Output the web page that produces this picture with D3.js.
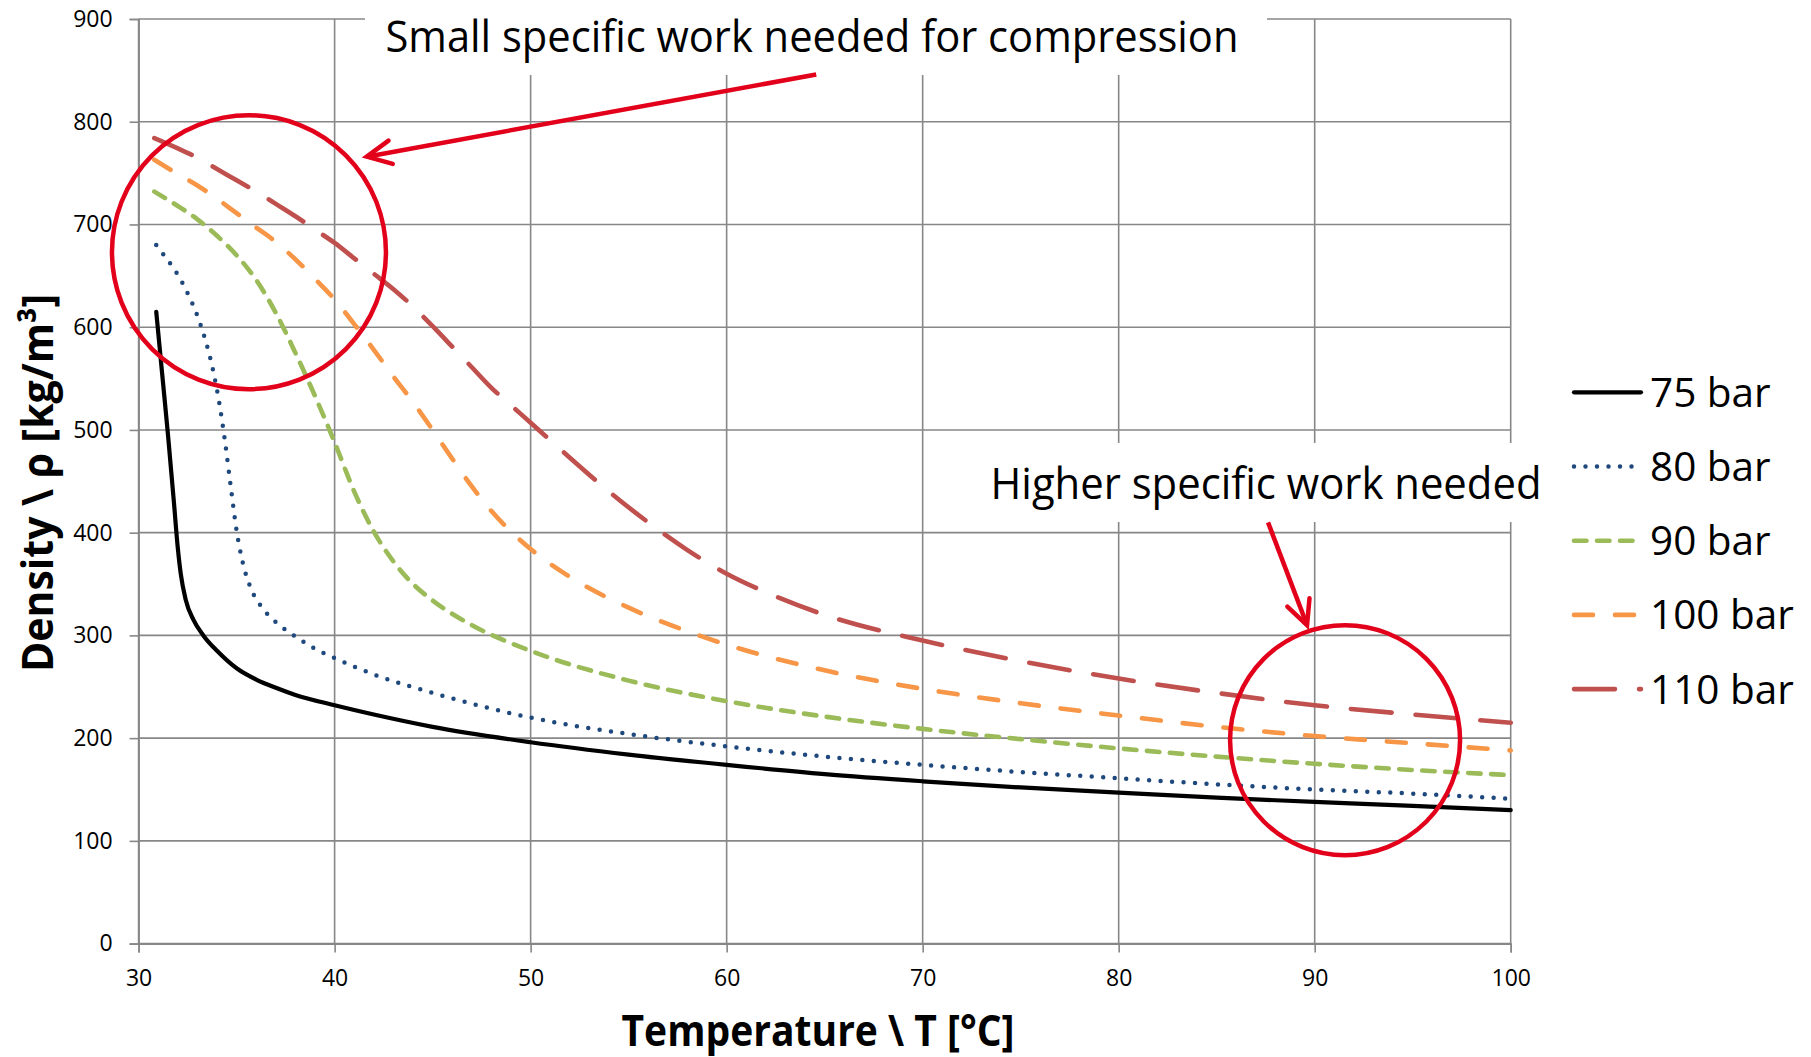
<!DOCTYPE html>
<html><head><meta charset="utf-8">
<script src="https://cdn.jsdelivr.net/npm/d3@7"></script>
<style>html,body{margin:0;padding:0;background:#fff}</style>
</head><body>
<svg id="chart" width="1811" height="1057"></svg>
<script>
// ---- data ----
const xTicks = [30, 40, 50, 60, 70, 80, 90, 100];
const yTicks = [0, 100, 200, 300, 400, 500, 600, 700, 800, 900];
const seriesNames = ["75 bar", "80 bar", "90 bar", "100 bar", "110 bar"];

const t75   = [30.9, 31.2, 31.5, 31.8, 32.0, 32.15, 32.4, 32.8, 33.3, 34, 35, 36, 37, 38, 40, 42, 45, 50, 55, 60, 65, 70, 75, 80, 85, 90, 95, 100];
const rho75 = [615, 555, 495, 430, 385, 360, 335, 315, 300, 285, 268, 257, 249, 242, 232, 223, 211, 196, 184, 174, 165, 158, 152, 147, 142, 138, 134, 130];

const t80   = [30.9, 31.3, 31.65, 32.0, 32.5, 33.0, 33.4, 33.8, 34.1, 34.4, 34.7, 35.0, 35.3, 35.7, 36.3, 37, 38, 39, 40, 42, 45, 50, 55, 60, 65, 70, 75, 80, 85, 90, 95, 100];
const rho80 = [680, 670, 661, 651, 633, 611, 588, 558, 528, 490, 445, 402, 372, 347, 327, 313, 299, 287, 278, 262, 244, 220, 204, 192, 182, 174, 167, 161, 155, 150, 146, 141];

const t90   = [30.8, 32, 33, 34, 35, 36, 37, 38, 39, 40, 41, 42, 43, 44, 45, 47, 50, 55, 60, 65, 70, 75, 80, 85, 90, 95, 100];
const rho90 = [732, 718, 705, 689, 670, 646, 614, 575, 533, 488, 440, 401, 372, 350, 334, 310, 285, 256, 236, 221, 209, 199, 190, 182, 175, 169, 164];

const t100   = [30.8, 32, 33, 34, 35, 36, 37, 38, 39, 40, 41, 42, 43, 44, 45, 46, 47, 48, 49, 50, 52, 55, 58, 60, 65, 70, 75, 80, 85, 90, 95, 100];
const rho100 = [763, 749, 738, 725, 711, 697, 683, 666, 647, 627, 603, 578, 552, 527, 500, 472, 445, 421, 401, 384, 357, 327, 304, 291, 266, 248, 234, 222, 211, 202, 195, 188];

const t110   = [30.8, 32, 33, 34, 35, 36, 37, 38, 39, 40, 41, 42, 43, 44, 45, 46, 47, 48, 49, 50, 52, 54, 56, 58, 60, 62, 65, 70, 75, 80, 85, 90, 95, 100];
const rho110 = [784, 774, 765, 754, 743, 732, 720, 708, 695, 682, 667, 652, 637, 620, 601, 581, 561, 541, 524, 507, 473, 440, 410, 383, 360, 342, 320, 295, 275, 258, 244, 232, 223, 215];

// ---- styles ----
const seriesT   = [t75, t80, t90, t100, t110];
const seriesRho = [rho75, rho80, rho90, rho100, rho110];
const colors  = ["#000000", "#1f497d", "#9bbb59", "#f79646", "#c0504d"];
const dashes  = [null, "0 11.5", "12.5 10.5", "19 22", "41 24"];
const widths  = [4.2, 4.5, 4.6, 4.6, 4.6];
const annRed = "#e2001a";
const FONT = "'Open Sans', 'Noto Sans', sans-serif";

const svg = d3.select("#chart");
const L = 138.6, R = 1510.7, T = 19, B = 943.6;
const x = d3.scaleLinear().domain([30, 100]).range([L, R]);
const y = d3.scaleLinear().domain([0, 900]).range([B, T]);

svg.append("rect").attr("width", 1811).attr("height", 1057).attr("fill", "#fff");

const gridCol = "#878787";
// gridlines
svg.append("g").selectAll("line.v").data(xTicks).join("line")
  .attr("x1", d => x(d)).attr("x2", d => x(d)).attr("y1", T).attr("y2", B)
  .attr("stroke", gridCol).attr("stroke-width", 1.6);
svg.append("g").selectAll("line.h").data(yTicks).join("line")
  .attr("x1", L).attr("x2", R).attr("y1", d => y(d)).attr("y2", d => y(d))
  .attr("stroke", gridCol).attr("stroke-width", 1.6);

// axes
const xAxis = svg.append("g").attr("transform", `translate(0,${B})`)
  .call(d3.axisBottom(x).tickValues(xTicks).tickSize(9).tickPadding(17).tickFormat(d3.format("d")));
const yAxis = svg.append("g").attr("transform", `translate(${L},0)`)
  .call(d3.axisLeft(y).tickValues(yTicks).tickSize(9).tickPadding(17).tickFormat(d3.format("d")));
[xAxis, yAxis].forEach(g => {
  g.select(".domain").attr("stroke", gridCol).attr("stroke-width", 1.6);
  g.selectAll(".tick line").attr("stroke", gridCol).attr("stroke-width", 1.6);
  g.selectAll(".tick text").attr("font-family", FONT).attr("font-size", 23).attr("fill", "#000");
});

// white boxes behind annotation texts
svg.append("rect").attr("x", 365).attr("y", 0).attr("width", 902).attr("height", 75).attr("fill", "#fff");
svg.append("rect").attr("x", 972).attr("y", 443).attr("width", 590).attr("height", 79).attr("fill", "#fff");

// curves
const line = d3.line().x(d => x(d[0])).y(d => y(d[1])).curve(d3.curveMonotoneX);
seriesT.forEach((ts, i) => {
  const pts = ts.map((t, j) => [t, seriesRho[i][j]]);
  svg.append("path").datum(pts).attr("d", line)
    .attr("fill", "none").attr("stroke", colors[i]).attr("stroke-width", widths[i])
    .attr("stroke-linecap", "round").attr("stroke-linejoin", "round")
    .attr("stroke-dasharray", dashes[i]);
});

// annotation circles (positioned in data space)
const circles = [{t: 35.63, r: 673, rad: 137}, {t: 91.55, r: 198, rad: 115}];
svg.append("g").selectAll("circle").data(circles).join("circle")
  .attr("cx", d => x(d.t)).attr("cy", d => y(d.r)).attr("r", d => d.rad)
  .attr("fill", "none").attr("stroke", annRed).attr("stroke-width", 4.5);

// arrows
const arrows = [
  {t0: 64.57, r0: 846, t1: 41.64, r1: 766},
  {t0: 87.62, r0: 410, t1: 89.61, r1: 310}
];
arrows.forEach(a => {
  const x0 = x(a.t0), y0 = y(a.r0), x1 = x(a.t1), y1 = y(a.r1);
  const ang = Math.atan2(y0 - y1, x0 - x1);
  const len = 27, spread = 26 * Math.PI / 180;
  const p1 = [x1 + len * Math.cos(ang - spread), y1 + len * Math.sin(ang - spread)];
  const p2 = [x1 + len * Math.cos(ang + spread), y1 + len * Math.sin(ang + spread)];
  svg.append("line").attr("x1", x0).attr("y1", y0).attr("x2", x1).attr("y2", y1)
    .attr("stroke", annRed).attr("stroke-width", 4.5);
  svg.append("path").attr("d", `M${p1[0]},${p1[1]} L${x1},${y1} L${p2[0]},${p2[1]}`)
    .attr("fill", "none").attr("stroke", annRed).attr("stroke-width", 4.5)
    .attr("stroke-linecap", "round").attr("stroke-linejoin", "miter");
});

// annotation texts
svg.append("text").attr("x", 812).attr("y", 51.5).attr("text-anchor", "middle")
  .attr("font-family", FONT).attr("font-size", 43.5).attr("fill", "#000")
  .attr("textLength", 853).attr("lengthAdjust", "spacingAndGlyphs")
  .text("Small specific work needed for compression");
svg.append("text").attr("x", 990.5).attr("y", 499).attr("text-anchor", "start")
  .attr("font-family", FONT).attr("font-size", 43.5).attr("fill", "#000")
  .attr("textLength", 551).attr("lengthAdjust", "spacingAndGlyphs")
  .text("Higher specific work needed");

// axis titles
svg.append("text").attr("x", 818).attr("y", 1046).attr("text-anchor", "middle")
  .attr("font-family", FONT).attr("font-weight", 700).attr("font-size", 42.5).attr("fill", "#000")
  .attr("textLength", 393).attr("lengthAdjust", "spacingAndGlyphs")
  .text("Temperature \\ T [°C]");
svg.append("text").attr("transform", "translate(53,483) rotate(-90)").attr("text-anchor", "middle")
  .attr("font-family", FONT).attr("font-weight", 700).attr("font-size", 42.5).attr("fill", "#000")
  .attr("textLength", 378).attr("lengthAdjust", "spacingAndGlyphs")
  .text("Density \\ ρ [kg/m³]");

// legend
const lg = svg.append("g");
const legY0 = 392.3, legStep = 74.2;
seriesNames.forEach((name, i) => {
  const yy = legY0 + i * legStep;
  lg.append("line").attr("x1", 1574).attr("x2", 1641).attr("y1", yy).attr("y2", yy)
    .attr("stroke", colors[i]).attr("stroke-width", widths[i])
    .attr("stroke-linecap", "round").attr("stroke-dasharray", dashes[i]);
  lg.append("text").attr("x", 1650).attr("y", yy + 14.4)
    .attr("font-family", FONT).attr("font-size", 40.5).attr("fill", "#000").text(name);
});
</script>
</body></html>
